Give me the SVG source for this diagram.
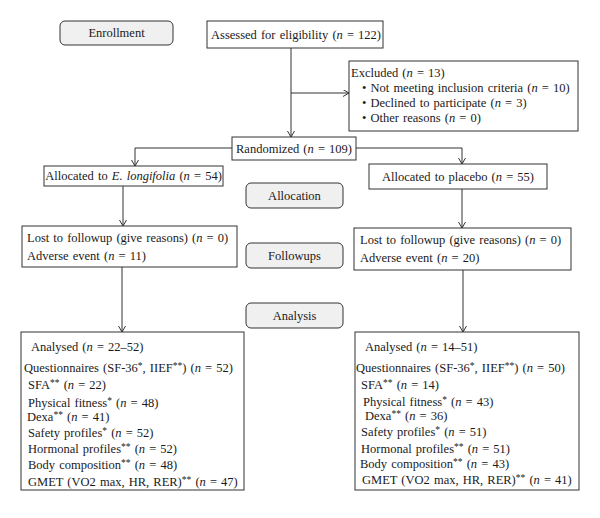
<svg xmlns="http://www.w3.org/2000/svg" width="600" height="518" viewBox="0 0 600 518">
<style>
text{font-family:"Liberation Serif","Times New Roman",serif;font-size:12.5px;word-spacing:1px;fill:#1a1a1a}
.i{font-style:italic}
.box{fill:#fff;stroke:#333;stroke-width:1}
.stage{fill:#f0f0f0;stroke:#333;stroke-width:1}
.c{fill:none;stroke:#333;stroke-width:1}
.s{font-size:9.5px}
</style>
<defs>
<marker id="ah" markerWidth="8" markerHeight="8" refX="6" refY="3.5" orient="auto" markerUnits="userSpaceOnUse">
<path d="M0,0 L6,3.5 L0,7" fill="none" stroke="#333" stroke-width="1"/>
</marker>
</defs>
<rect width="600" height="518" fill="#fff"/>

<g id="connectors">
<path class="c" d="M291,48 V137" marker-end="url(#ah)"/>
<path class="c" d="M291,93 H349" marker-end="url(#ah)"/>
<path class="c" d="M232,148 H135 V166" marker-end="url(#ah)"/>
<path class="c" d="M356,148 H462 V164" marker-end="url(#ah)"/>
<path class="c" d="M123,186 V226" marker-end="url(#ah)"/>
<path class="c" d="M462,189 V228" marker-end="url(#ah)"/>
<path class="c" d="M122,267 V332" marker-end="url(#ah)"/>
<path class="c" d="M463,270 V332" marker-end="url(#ah)"/>
</g>

<g id="enrollment">
<rect class="stage" x="60" y="21" width="113" height="24" rx="5"/>
<text x="116.5" y="37" text-anchor="middle">Enrollment</text>
</g>
<g id="allocation">
<rect class="stage" x="246" y="183" width="97" height="25" rx="5"/>
<text x="294.5" y="200" text-anchor="middle">Allocation</text>
</g>
<g id="followups">
<rect class="stage" x="246" y="243" width="97" height="25" rx="5"/>
<text x="294.5" y="260" text-anchor="middle">Followups</text>
</g>
<g id="analysis">
<rect class="stage" x="246" y="303" width="97" height="25" rx="5"/>
<text x="294.5" y="320" text-anchor="middle">Analysis</text>
</g>

<g id="assessed">
<rect class="box" x="207" y="21" width="176" height="27"/>
<text x="211" y="39">Assessed for eligibility (<tspan class="i">n</tspan> = 122)</text>
</g>

<g id="excluded">
<rect class="box" x="349" y="61" width="229" height="70"/>
<text x="351" y="77">Excluded (<tspan class="i">n</tspan> = 13)</text>
<text x="362" y="92">• Not meeting inclusion criteria (<tspan class="i">n</tspan> = 10)</text>
<text x="362" y="107">• Declined to participate (<tspan class="i">n</tspan> = 3)</text>
<text x="362" y="122">• Other reasons (<tspan class="i">n</tspan> = 0)</text>
</g>

<g id="randomized">
<rect class="box" x="232" y="137" width="124" height="23"/>
<text x="294" y="153" text-anchor="middle">Randomized (<tspan class="i">n</tspan> = 109)</text>
</g>

<g id="alloc-el">
<rect class="box" x="44" y="166" width="179" height="20"/>
<text x="133.5" y="180" text-anchor="middle">Allocated to <tspan class="i">E. longifolia</tspan> (<tspan class="i">n</tspan> = 54)</text>
</g>
<g id="alloc-pl">
<rect class="box" x="369" y="164" width="178" height="25"/>
<text x="458" y="181" text-anchor="middle">Allocated to placebo (<tspan class="i">n</tspan> = 55)</text>
</g>

<g id="lost-el">
<rect class="box" x="22" y="226" width="215" height="41"/>
<text x="27" y="242">Lost to followup (give reasons) (<tspan class="i">n</tspan> = 0)</text>
<text x="27" y="260">Adverse event (<tspan class="i">n</tspan> = 11)</text>
</g>
<g id="lost-pl">
<rect class="box" x="354" y="228" width="217" height="42"/>
<text x="360" y="244">Lost to followup (give reasons) (<tspan class="i">n</tspan> = 0)</text>
<text x="360" y="262">Adverse event (<tspan class="i">n</tspan> = 20)</text>
</g>

<g id="analysed-el">
<rect class="box" x="21" y="332" width="223" height="158"/>
<text x="31" y="351">Analysed (<tspan class="i">n</tspan> = 22–52)</text>
<text x="24" y="372">Questionnaires (SF-36<tspan class="s" dy="-3">*</tspan><tspan dy="3">, IIEF</tspan><tspan class="s" dy="-3">**</tspan><tspan dy="3">) (</tspan><tspan class="i">n</tspan> = 52)</text>
<text x="28" y="389">SFA<tspan class="s" dy="-3">**</tspan><tspan dy="3"> (</tspan><tspan class="i">n</tspan> = 22)</text>
<text x="28" y="407">Physical fitness<tspan class="s" dy="-3">*</tspan><tspan dy="3"> (</tspan><tspan class="i">n</tspan> = 48)</text>
<text x="27" y="421">Dexa<tspan class="s" dy="-3">**</tspan><tspan dy="3"> (</tspan><tspan class="i">n</tspan> = 41)</text>
<text x="28" y="437">Safety profiles<tspan class="s" dy="-3">*</tspan><tspan dy="3"> (</tspan><tspan class="i">n</tspan> = 52)</text>
<text x="28" y="453">Hormonal profiles<tspan class="s" dy="-3">**</tspan><tspan dy="3"> (</tspan><tspan class="i">n</tspan> = 52)</text>
<text x="28" y="469">Body composition<tspan class="s" dy="-3">**</tspan><tspan dy="3"> (</tspan><tspan class="i">n</tspan> = 48)</text>
<text x="28" y="486">GMET (VO2 max, HR, RER)<tspan class="s" dy="-3">**</tspan><tspan dy="3"> (</tspan><tspan class="i">n</tspan> = 47)</text>
</g>

<g id="analysed-pl">
<rect class="box" x="355" y="332" width="224" height="158"/>
<text x="365" y="351">Analysed (<tspan class="i">n</tspan> = 14–51)</text>
<text x="356" y="372">Questionnaires (SF-36<tspan class="s" dy="-3">*</tspan><tspan dy="3">, IIEF</tspan><tspan class="s" dy="-3">**</tspan><tspan dy="3">) (</tspan><tspan class="i">n</tspan> = 50)</text>
<text x="361" y="389">SFA<tspan class="s" dy="-3">**</tspan><tspan dy="3"> (</tspan><tspan class="i">n</tspan> = 14)</text>
<text x="363" y="406">Physical fitness<tspan class="s" dy="-3">*</tspan><tspan dy="3"> (</tspan><tspan class="i">n</tspan> = 43)</text>
<text x="365" y="420">Dexa<tspan class="s" dy="-3">**</tspan><tspan dy="3"> (</tspan><tspan class="i">n</tspan> = 36)</text>
<text x="361" y="436">Safety profiles<tspan class="s" dy="-3">*</tspan><tspan dy="3"> (</tspan><tspan class="i">n</tspan> = 51)</text>
<text x="361" y="453">Hormonal profiles<tspan class="s" dy="-3">**</tspan><tspan dy="3"> (</tspan><tspan class="i">n</tspan> = 51)</text>
<text x="360" y="468">Body composition<tspan class="s" dy="-3">**</tspan><tspan dy="3"> (</tspan><tspan class="i">n</tspan> = 43)</text>
<text x="362" y="484">GMET (VO2 max, HR, RER)<tspan class="s" dy="-3">**</tspan><tspan dy="3"> (</tspan><tspan class="i">n</tspan> = 41)</text>
</g>
</svg>
